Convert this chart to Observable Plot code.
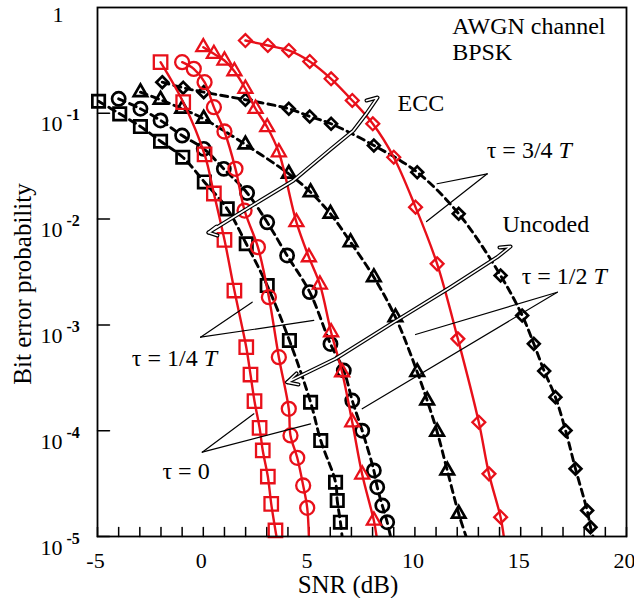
<!DOCTYPE html>
<html><head><meta charset="utf-8">
<script src="https://cdn.jsdelivr.net/npm/d3@7"></script>
<script src="https://cdn.jsdelivr.net/npm/@observablehq/plot@0.6"></script>
<style>body{margin:0;background:#fff}svg{display:block}</style>
</head><body><div id="chart"></div>
<script>
// ---------- data (SNR in dB, BER as log10 exponent) ----------
// uncoded (black, dashed)
const sqUncX = [-4.95,-3.95,-2.97,-2.02,-0.97,0.05,1.13,2.03,3.02,4.07,5.07,5.55,6.25,6.33,6.48];
const sqUncL = [-0.886,-1.005,-1.125,-1.264,-1.415,-1.649,-1.903,-2.233,-2.628,-3.147,-3.731,-4.093,-4.487,-4.66,-4.865];
const ciUncX = [-4.0,-2.97,-2.02,-1.0,0.02,0.97,2.07,3.02,3.96,5.03,6.01,6.64,7.04,7.51,8.06,8.22,8.46,8.69];
const ciUncL = [-0.863,-0.957,-1.068,-1.21,-1.336,-1.525,-1.753,-2.03,-2.344,-2.69,-3.18,-3.431,-3.715,-4.0,-4.376,-4.534,-4.707,-4.865];
const trUncX = [-2.97,-2.02,-1.0,0.02,1.99,4.04,5.07,6.01,6.96,8.06,9.08,10.11,10.58,11.05,11.53,12.07];
const trUncL = [-0.8,-0.872,-0.957,-1.052,-1.295,-1.572,-1.746,-1.95,-2.218,-2.549,-2.927,-3.445,-3.715,-4.01,-4.376,-4.785];
const diUncX = [-1.94,-0.95,0.02,1.99,4.04,5.03,6.04,8.06,10.11,12.07,14.05,15.07,15.62,16.11,16.64,17.12,17.59,18.14,18.3];
const diUncL = [-0.706,-0.759,-0.8,-0.872,-0.957,-1.03,-1.099,-1.304,-1.557,-1.95,-2.533,-2.911,-3.179,-3.436,-3.683,-3.998,-4.36,-4.754,-4.912];
// ECC (red, solid)
const sqEccX = [-2.02,-0.95,0.06,0.5,1.0,1.47,2.03,2.23,2.42,2.66,2.81,3.05,3.21,3.41];
const sqEccL = [-0.517,-0.895,-1.389,-1.758,-2.196,-2.675,-3.211,-3.469,-3.721,-3.973,-4.187,-4.433,-4.691,-4.943];
const ciEccX = [-1.0,-0.45,0.06,0.5,1.0,1.52,1.95,2.58,3.1,3.57,4.04,4.12,4.44,4.72,4.91];
const ciEccL = [-0.517,-0.58,-0.706,-0.942,-1.172,-1.525,-1.919,-2.265,-2.738,-3.305,-3.793,-4.045,-4.256,-4.518,-4.729];
const trEccX = [0.0,0.5,1.0,1.47,1.99,2.47,3.02,3.57,4.4,4.99,5.51,6.04,6.56,7.04,7.51,8.06];
const trEccL = [-0.375,-0.438,-0.501,-0.602,-0.768,-0.957,-1.131,-1.368,-2.029,-2.36,-2.618,-3.069,-3.447,-3.92,-4.414,-4.849];
const diEccX = [1.99,3.05,4.04,5.03,6.04,7.04,8.01,9.0,10.03,11.05,12.03,13.02,13.5,14.05];
const diEccL = [-0.312,-0.359,-0.406,-0.51,-0.674,-0.879,-1.099,-1.415,-1.887,-2.423,-3.132,-3.92,-4.408,-4.817];
// SNR where each curve meets the bottom edge (BER = 1e-5)
const curveEnds = {sqUnc: 6.56, ciUnc: 8.85, trUnc: 12.42, diUnc: 18.42, sqEcc: 3.46, ciEcc: 4.99, trEcc: 8.19, diEcc: 14.2};

// ticks / labels
const xTickValues = [-5,0,5,10,15,20];
const xTickLabels = ["-5","0","5","10","15","20"];
const xMinorTicks = d3.range(-5, 21);
const yDecades = [-1,-2,-3,-4,-5];
const yExpLabels = ["-1","-2","-3","-4","-5"];

// annotations
const noteText = ["AWGN channel","BPSK","ECC","Uncoded"];
const noteX = [11.76,11.76,9.18,14.14];
const noteL = [-0.249,-0.494,-0.98,-2.124];
// τ labels: roman part ends just before the italic T (anchor at T start)
const tauText = ["τ = 3/4","τ = 1/2","τ = 1/4"];
const tauTX = [16.79,18.44,0.02];
const tauL = [-1.421,-2.612,-3.384];
const tauZeroText = ["τ = 0"];
const tauZeroX = [-1.93];
const tauZeroL = [-4.455];
const pointerApexX = [13.42,13.42,16.73,16.73,-0.13,-0.13,-0.05,-0.05];
const pointerApexL = [-1.572,-1.572,-2.691,-2.691,-3.116,-3.116,-4.203,-4.203];
const pointerEndX = [11.05,10.55,10.03,7.51,2.31,5.22,2.39,5.07];
const pointerEndL = [-1.666,-2.023,-3.091,-3.793,-2.785,-2.958,-3.84,-3.935];
const eccLassoX = [0.246,2.703,4.263,6.011,7.098,7.713,8.233];
const eccLassoL = [-2.127,-1.824,-1.635,-1.342,-1.163,-1.002,-0.851];
const eccBarbX = [0.624,0.671,7.713]; const eccBarbL = [-2.07,-2.155,-0.879];
const uncLassoX = [3.965,6.248,9.003,11.682,13.889,14.518];
const uncLassoL = [-3.542,-3.32,-2.974,-2.644,-2.36,-2.259];
const uncBarbX = [4.405,4.499,13.998]; const uncBarbL = [-3.459,-3.563,-2.268];

// ---------- build ----------
const FONT = "'Liberation Serif','Times New Roman',serif";
const RED = "#e8101a";
const pow = l => 10 ** l;
const series = [
  {key:"sqUnc", x:sqUncX, l:sqUncL, symbol:"square", r:7, coded:false},
  {key:"ciUnc", x:ciUncX, l:ciUncL, symbol:"circle", r:6.6, coded:false},
  {key:"trUnc", x:trUncX, l:trUncL, symbol:"triangle", r:5, coded:false},
  {key:"diUnc", x:diUncX, l:diUncL, symbol:"diamond2", r:5.3, coded:false},
  {key:"sqEcc", x:sqEccX, l:sqEccL, symbol:"square", r:7.6, coded:true},
  {key:"ciEcc", x:ciEccX, l:ciEccL, symbol:"circle", r:7, coded:true},
  {key:"trEcc", x:trEccX, l:trEccL, symbol:"triangle", r:5.2, coded:true},
  {key:"diEcc", x:diEccX, l:diEccL, symbol:"diamond2", r:5.8, coded:true}
];
for (const s of series) {
  s.pts = s.x.map((x, i) => ({x, y: pow(s.l[i])}));
  s.linePts = [...s.pts, {x: curveEnds[s.key], y: 1e-5}];
}
const tickShape = {draw(context, l) { context.moveTo(0, 0); context.lineTo(0, -l); }};

function lassoPaths(xs, ls, bx, bl, id) {
  const main = [{id: id+"a", x: bx[0], y: pow(bl[0])}, ...xs.map((x,i)=>({id: id+"a", x, y: pow(ls[i])})), {id: id+"a", x: bx[2], y: pow(bl[2])}];
  const barb = [{id: id+"b", x: bx[1], y: pow(bl[1])}, {id: id+"b", x: xs[0], y: pow(ls[0])}];
  return [...main, ...barb];
}
const lassoRows = [...lassoPaths(eccLassoX, eccLassoL, eccBarbX, eccBarbL, "ecc"), ...lassoPaths(uncLassoX, uncLassoL, uncBarbX, uncBarbL, "unc")];
const pointerRows = pointerApexX.flatMap((ax, i) => [
  {id: i, x: ax, y: pow(pointerApexL[i])}, {id: i, x: pointerEndX[i], y: pow(pointerEndL[i])}]);

const txt = {fontFamily: FONT, fill: "#000", lineAnchor: "bottom"};
const marks = [];
// ticks
marks.push(Plot.vector(xMinorTicks, {x: d => d, y: 1e-5, length: 9, rotate: 0, anchor: "start", shape: tickShape, stroke: "#000", strokeWidth: 1.5}));
marks.push(Plot.vector(yDecades, {x: -5, y: d => pow(d), length: 12, rotate: 90, anchor: "start", shape: tickShape, stroke: "#000", strokeWidth: 1.5}));
// uncoded curves
for (const s of series.filter(s => !s.coded)) {
  marks.push(Plot.line(s.linePts, {x: "x", y: "y", stroke: "#000", strokeWidth: 2.9, strokeDasharray: "7,5", curve: "catmull-rom", clip: true}));
  marks.push(Plot.dot(s.pts, {x: "x", y: "y", symbol: s.symbol, r: s.r, stroke: "#000", strokeWidth: 2.7, fill: "none"}));
}
// ECC curves
for (const s of series.filter(s => s.coded)) {
  marks.push(Plot.line(s.linePts, {x: "x", y: "y", stroke: RED, strokeWidth: 2.4, curve: "catmull-rom", clip: true}));
  marks.push(Plot.dot(s.pts, {x: "x", y: "y", symbol: s.symbol, r: s.r, stroke: RED, strokeWidth: 2.3, fill: "none"}));
}
// annotation lines
marks.push(Plot.line(pointerRows, {x: "x", y: "y", z: "id", stroke: "#000", strokeWidth: 1.2}));
marks.push(Plot.line(lassoRows, {x: "x", y: "y", z: "id", stroke: "#000", strokeWidth: 4, strokeLinejoin: "round", strokeLinecap: "round"}));
marks.push(Plot.line(lassoRows, {x: "x", y: "y", z: "id", stroke: "#fff", strokeWidth: 1.6, strokeLinejoin: "round", strokeLinecap: "round"}));
// annotation texts
marks.push(Plot.text(noteText, {...txt, x: (d, i) => noteX[i], y: (d, i) => pow(noteL[i]), text: d => d, textAnchor: "start", fontSize: 24}));
marks.push(Plot.text(tauText, {...txt, x: (d, i) => tauTX[i], y: (d, i) => pow(tauL[i]), text: d => d, textAnchor: "end", dx: -6, fontSize: 24}));
marks.push(Plot.text(tauText, {...txt, x: (d, i) => tauTX[i], y: (d, i) => pow(tauL[i]), text: () => "T", textAnchor: "start", fontSize: 24, fontStyle: "italic"}));
marks.push(Plot.text(tauZeroText, {...txt, x: (d, i) => tauZeroX[i], y: (d, i) => pow(tauZeroL[i]), text: d => d, textAnchor: "start", fontSize: 24}));
// tick labels
marks.push(Plot.text(xTickValues, {...txt, x: d => d, y: 1e-5, text: (d, i) => xTickLabels[i], dx: -2, dy: 31, fontSize: 22}));
marks.push(Plot.text(["1"], {...txt, x: -5, y: 1, text: d => d, textAnchor: "end", dx: -34, dy: 14, fontSize: 22}));
marks.push(Plot.text(yDecades, {...txt, x: -5, y: d => pow(d), text: () => "10", textAnchor: "end", dx: -35, dy: 18, fontSize: 22}));
marks.push(Plot.text(yDecades, {...txt, x: -5, y: d => pow(d), text: (d, i) => yExpLabels[i], textAnchor: "start", dx: -31, dy: 7, fontSize: 16, fontWeight: "bold"}));
// axis titles
marks.push(Plot.text(["SNR (dB)"], {...txt, frameAnchor: "bottom", text: d => d, textAnchor: "middle", dx: -14, dy: 56, fontSize: 25}));
marks.push(Plot.text(["Bit error probability"], {...txt, frameAnchor: "left", text: d => d, textAnchor: "middle", rotate: -90, dx: -67, dy: 12, fontSize: 25}));
marks.push(Plot.frame({stroke: "#000", strokeWidth: 1.8}));

const chart = Plot.plot({
  width: 634, height: 598,
  marginTop: 7, marginRight: 8, marginBottom: 62, marginLeft: 97,
  x: {domain: [-5, 20], axis: null},
  y: {type: "log", domain: [1e-5, 1], axis: null},
  style: {background: "#fff", fontFamily: FONT},
  marks
});
document.getElementById("chart").appendChild(chart);
</script></body></html>
